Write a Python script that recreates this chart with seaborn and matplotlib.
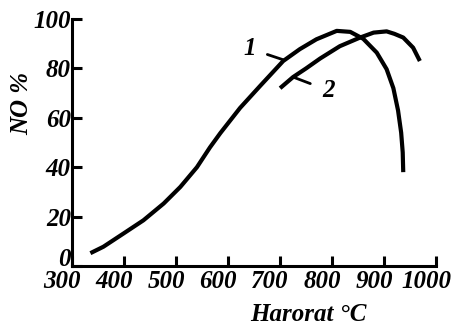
import matplotlib
matplotlib.use("Agg")
import matplotlib.pyplot as plt
import matplotlib.transforms as mtransforms
import seaborn as sns
import pandas as pd

# curve 1
temp_1 = [335, 360, 399, 437, 476, 508, 540, 565, 585, 623, 662, 706, 738, 770,
          809, 835, 860, 886, 905, 918, 927, 933, 936, 937]
no_1 = [5.2, 7.8, 13.2, 18.5, 25.3, 32, 40, 48, 53.8, 64, 73, 83, 87.8, 91.8,
        95.2, 94.8, 92, 86.4, 79.7, 72, 63, 54, 46, 38]

# curve 2
temp_2 = [700, 725, 750, 777, 815, 854, 880, 905, 920, 937, 956, 969]
no_2 = [72, 76.5, 80, 84, 89, 92.5, 94.5, 95, 94, 92.5, 88.4, 83]

x_ticks = [300, 400, 500, 600, 700, 800, 900, 1000]
y_ticks = [0, 20, 40, 60, 80, 100]

df = pd.concat([
    pd.DataFrame({'temp': temp_1, 'no': no_1, 'curve': '1'}),
    pd.DataFrame({'temp': temp_2, 'no': no_2, 'curve': '2'}),
])

sns.set_style('ticks')
plt.rcParams['font.family'] = ['Liberation Serif', 'DejaVu Serif']
plt.rcParams['text.color'] = 'black'
plt.rcParams['axes.labelcolor'] = 'black'

fig = plt.figure(figsize=(4.57, 3.28), dpi=100)
ax = fig.add_axes([0.158, 0.189, 0.796, 0.753])

sns.lineplot(data=df, x='temp', y='no', hue='curve', palette=['black', 'black'],
             sort=False, estimator=None, legend=False, linewidth=3, ax=ax)
for line in ax.lines:
    line.set_solid_capstyle('butt')
    line.set_solid_joinstyle('round')

txt = dict(fontsize=18, style='italic', weight='bold', color='black')

ax.set_xlim(300, 1000)
ax.set_ylim(0, 100)
ax.set_xticks(x_ticks)
ax.set_yticks(y_ticks)
ax.set_xticklabels([str(t) for t in x_ticks], **txt)
ax.set_yticklabels([str(t) for t in y_ticks], **txt)
ax.tick_params(direction='in', length=7, width=2.2, colors='black', pad=3)
ax.tick_params(axis='y', pad=1)

sns.despine(ax=ax)
for side in ['left', 'bottom']:
    ax.spines[side].set_linewidth(2.2)
    ax.spines[side].set_color('black')

# shift x tick labels a bit to the left like in the drawing
offset = mtransforms.ScaledTranslation(-10 / 100, 0, fig.dpi_scale_trans)
for lab in ax.get_xticklabels():
    lab.set_transform(lab.get_transform() + offset)
zero_off = mtransforms.ScaledTranslation(0, 9 / 100, fig.dpi_scale_trans)
ax.get_yticklabels()[0].set_transform(ax.get_yticklabels()[0].get_transform() + zero_off)

ax.set_xlabel('Harorat °C', **txt)
ax.xaxis.set_label_coords(0.648, -0.15)
ax.set_ylabel('NO %', **txt)
ax.yaxis.set_label_coords(-0.107, 0.66)

# curve labels with leader lines
ax.annotate('1', xy=(706, 83.5), xytext=(642, 88), ha='center', va='center',
            arrowprops=dict(arrowstyle='-', color='black', lw=2, shrinkA=6, shrinkB=0), **txt)
ax.annotate('2', xy=(725, 76.5), xytext=(794, 71), ha='center', va='center',
            arrowprops=dict(arrowstyle='-', color='black', lw=2, shrinkA=7, shrinkB=0), **txt)

fig.savefig('out.png', dpi=100)
